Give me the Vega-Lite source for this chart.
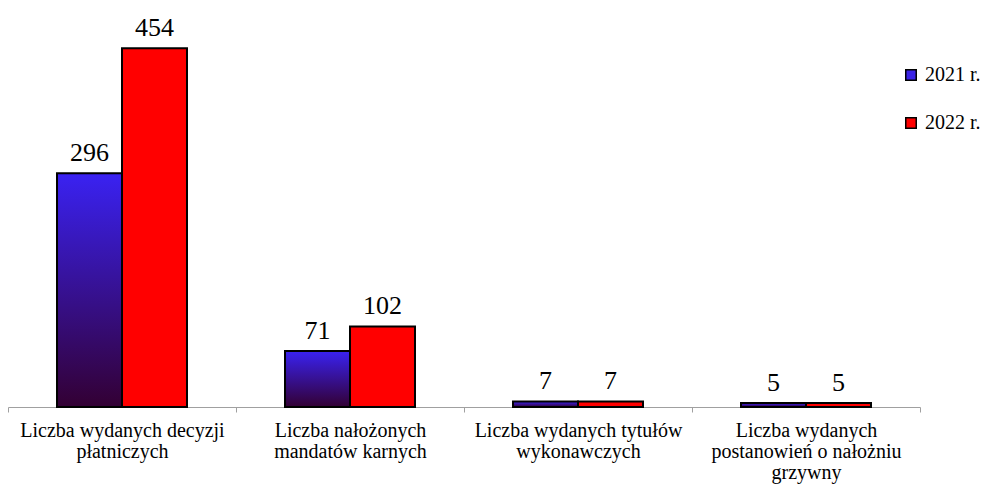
{
  "$schema": "https://vega.github.io/schema/vega-lite/v6.json",
  "width": 912,
  "height": 395,
  "padding": {"left": 8, "top": 12, "right": 73, "bottom": 77},
  "autosize": {"type": "none"},
  "background": "white",
  "config": {"view": {"stroke": null}},
  "data": {
    "values": [
      {"category": "Liczba wydanych decyzji\npłatniczych", "year": "2021 r.", "value": 296},
      {"category": "Liczba wydanych decyzji\npłatniczych", "year": "2022 r.", "value": 454},
      {"category": "Liczba nałożonych\nmandatów karnych", "year": "2021 r.", "value": 71},
      {"category": "Liczba nałożonych\nmandatów karnych", "year": "2022 r.", "value": 102},
      {"category": "Liczba wydanych tytułów\nwykonawczych", "year": "2021 r.", "value": 7},
      {"category": "Liczba wydanych tytułów\nwykonawczych", "year": "2022 r.", "value": 7},
      {"category": "Liczba wydanych\npostanowień o nałożniu\ngrzywny", "year": "2021 r.", "value": 5},
      {"category": "Liczba wydanych\npostanowień o nałożniu\ngrzywny", "year": "2022 r.", "value": 5}
    ]
  },
  "encoding": {
    "x": {
      "field": "category",
      "type": "nominal",
      "sort": null,
      "scale": {"paddingInner": 0, "paddingOuter": 0},
      "axis": {
        "title": null,
        "labelAngle": 0,
        "labelExpr": "split(datum.label, '\\n')",
        "labelFont": "Liberation Serif",
        "labelFontSize": 20,
        "labelColor": "#000000",
        "labelLineHeight": 21,
        "labelPadding": 8,
        "labelLimit": 0,
        "labelBaseline": "top",
        "tickBand": "extent",
        "tickSize": 5,
        "tickColor": "#a0a0a0",
        "domainColor": "#a0a0a0",
        "tickWidth": 1,
        "domainWidth": 1
      }
    },
    "xOffset": {
      "field": "year",
      "type": "nominal",
      "scale": {"paddingInner": 0, "paddingOuter": 0.754}
    },
    "y": {
      "field": "value",
      "type": "quantitative",
      "scale": {"domain": [0, 500], "nice": false},
      "axis": null
    }
  },
  "layer": [
    {
      "mark": {"type": "bar", "stroke": "#000000", "strokeWidth": 2},
      "encoding": {
        "fill": {
          "condition": {
            "test": "datum.year === '2021 r.'",
            "value": {
              "gradient": "linear",
              "x1": 0, "y1": 0, "x2": 0, "y2": 1,
              "stops": [
                {"offset": 0, "color": "#3a22f2"},
                {"offset": 1, "color": "#330033"}
              ]
            }
          },
          "field": "year",
          "type": "nominal",
          "scale": {"domain": ["2021 r.", "2022 r."], "range": ["#3a22e6", "#ff0000"]},
          "legend": {
            "title": null,
            "orient": "none",
            "legendX": 893,
            "legendY": 53,
            "symbolType": "square",
            "symbolSize": 110,
            "symbolStrokeColor": "#000000",
            "symbolStrokeWidth": 1.5,
            "symbolOpacity": 1,
            "labelFont": "Liberation Serif",
            "labelFontSize": 20,
            "labelColor": "#000000",
            "labelOffset": 4,
            "rowPadding": 28
          }
        }
      }
    },
    {
      "mark": {"type": "text", "baseline": "alphabetic", "dy": -12, "font": "Liberation Serif", "fontSize": 26, "color": "#000000"},
      "encoding": {
        "text": {"field": "value", "type": "quantitative"}
      }
    }
  ]
}
